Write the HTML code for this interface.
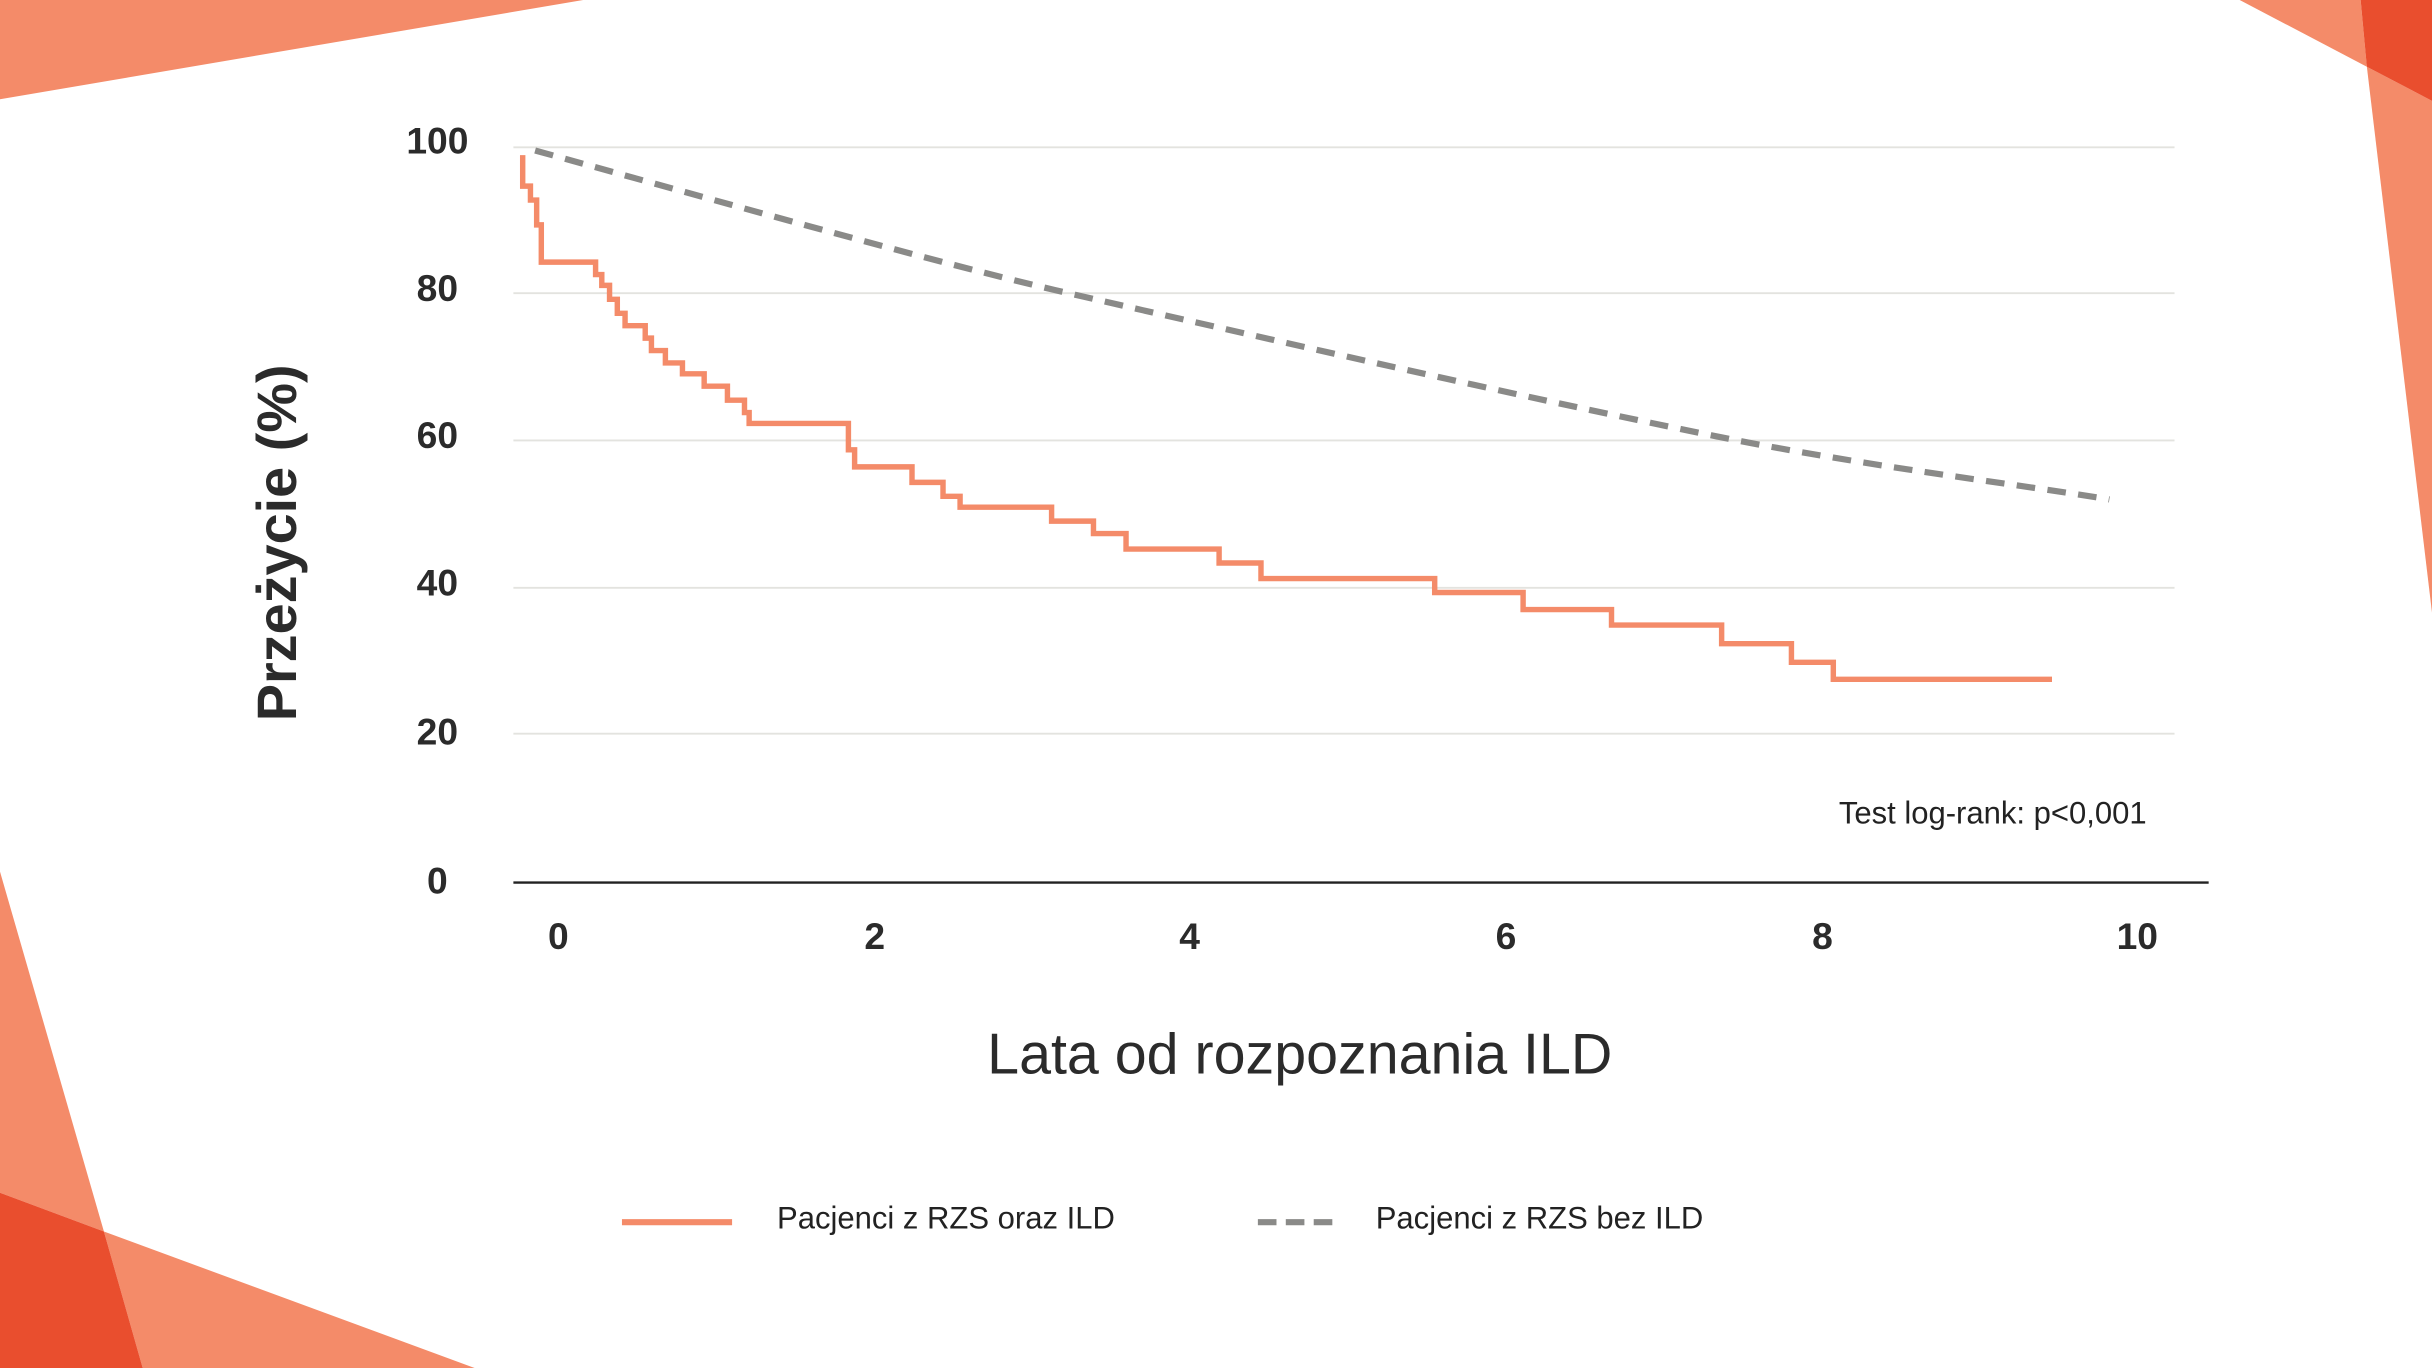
<!DOCTYPE html>
<html><head><meta charset="utf-8"><style>html,body{margin:0;padding:0;background:#fff;overflow:hidden}svg{display:block}</style></head>
<body>
<svg width="2432" height="1368" viewBox="0 0 1568 882" xmlns="http://www.w3.org/2000/svg" font-family="Liberation Sans, sans-serif">
<rect width="1568" height="882" fill="#fff"/>
<polygon points="0,0 376,0 0,64" fill="#F48B69"/>
<polygon points="1444,0 1522,0 1526,43" fill="#F48B69"/>
<polygon points="1526,43 1568,65 1568,395" fill="#F48B69"/>
<polygon points="1522,0 1568,0 1568,65 1526,43" fill="#E94E2E"/>
<polygon points="0,562 67,794 0,769" fill="#F48B69"/>
<polygon points="67,794 306,882 92,882" fill="#F48B69"/>
<polygon points="0,769 67,794 92,882 0,882" fill="#E94E2E"/>
<g stroke="#e3e3df" stroke-width="1.2">
<line x1="331" y1="95" x2="1402" y2="95"/><line x1="331" y1="189" x2="1402" y2="189"/>
<line x1="331" y1="284" x2="1402" y2="284"/><line x1="331" y1="379" x2="1402" y2="379"/>
<line x1="331" y1="473" x2="1402" y2="473"/>
</g>
<line x1="331" y1="569" x2="1424" y2="569" stroke="#222" stroke-width="1.5"/>
<g font-size="24" font-weight="bold" fill="#2b2b2b" text-anchor="middle">
<text x="282" y="99">100</text><text x="282" y="194">80</text><text x="282" y="289">60</text>
<text x="282" y="384">40</text><text x="282" y="480">20</text><text x="282" y="576">0</text>
<text x="360" y="612">0</text><text x="564" y="612">2</text><text x="767" y="612">4</text>
<text x="971" y="612">6</text><text x="1175" y="612">8</text><text x="1378" y="612">10</text>
</g>
<path d="M345,97 C500,140 600,168 680,187 C850,226 1000,260 1120,284 C1220,303 1300,312 1360,322" fill="none" stroke="#8a8a88" stroke-width="4" stroke-dasharray="12,8"/>
<polyline fill="none" stroke="#F48B69" stroke-width="3.5" points="337,100 337,120 342,120 342,129 346,129 346,145 349,145 349,169 384,169 384,177 388,177 388,184 393,184 393,193 398,193 398,202 403,202 403,210 416,210 416,218 420,218 420,226 429,226 429,234 440,234 440,241 454,241 454,249 469,249 469,258 480,258 480,266 483,266 483,273 547,273 547,290 551,290 551,301 588,301 588,311 608,311 608,320 619,320 619,327 678,327 678,336 705,336 705,344 726,344 726,354 786,354 786,363 813,363 813,373 925,373 925,382 982,382 982,393 1039,393 1039,403 1110,403 1110,415 1155,415 1155,427 1182,427 1182,438 1323,438"/>
<text x="1384" y="531" font-size="20" fill="#222" text-anchor="end">Test log-rank: p&lt;0,001</text>
<text x="838" y="692" font-size="37" fill="#2b2b2b" text-anchor="middle">Lata od rozpoznania ILD</text>
<text transform="translate(191,350) rotate(-90)" font-size="36" font-weight="bold" fill="#2b2b2b" text-anchor="middle">Przeżycie (%)</text>
<line x1="401" y1="788" x2="472" y2="788" stroke="#F48B69" stroke-width="4"/>
<text x="501" y="792" font-size="20" fill="#222">Pacjenci z RZS oraz ILD</text>
<line x1="811" y1="788" x2="863" y2="788" stroke="#8a8a88" stroke-width="4" stroke-dasharray="12,6"/>
<text x="887" y="792" font-size="20" fill="#222">Pacjenci z RZS bez ILD</text>
</svg>
</body></html>
